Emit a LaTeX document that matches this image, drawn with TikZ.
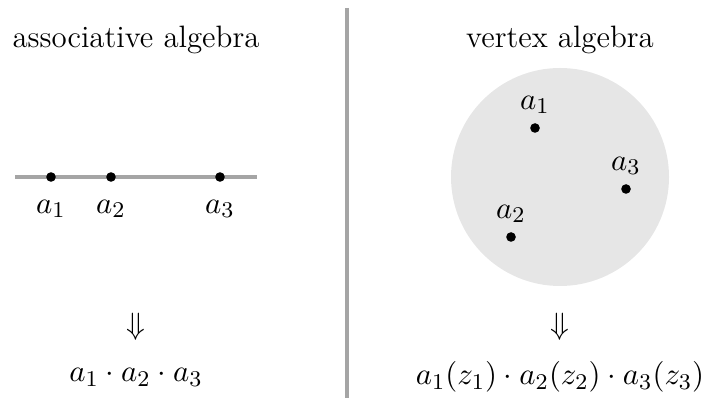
\documentclass[tikz,border=0pt]{standalone}
\usepackage{amsmath,amssymb}
\usepackage{tikz}
\usetikzlibrary{positioning}
\definecolor{rulegray}{RGB}{165,165,165}
\definecolor{diskgray}{RGB}{230,230,230}

\begin{document}
\begin{tikzpicture}[x=0.0125cm, y=-0.0125cm,
    every node/.style={font=\fontsize{11}{13.5}\selectfont},
    pt/.style={circle, fill=black, inner sep=0pt, minimum size=0.12cm},
    lbl/.style={inner sep=1pt},
    rule/.style={rulegray, line width=1.1pt}]
  \useasboundingbox (0,0) rectangle (705,398);

  % divider
  \coordinate (top) at (347,8);
  \coordinate (bot) at (347,398);
  \draw[rule] (top) -- (bot);

  % titles
  \node (tassoc) at (136,40) {associative algebra};
  \node (tvert) at (560,40) {vertex algebra};

  % left: points on a line
  \coordinate (lstart) at (15,177);
  \coordinate (lend) at (257,177);
  \draw[rule] (lstart) -- (lend);
  \node[pt] (p1) at (51,177) {};
  \node[pt] (p2) at (111,177) {};
  \node[pt] (p3) at (220,177) {};
  \node[lbl, below=5pt of p1] {$a_1$};
  \node[lbl, below=5pt of p2] {$a_2$};
  \node[lbl, below=5pt of p3] {$a_3$};

  % right: points in a disk
  \node[circle, fill=diskgray, minimum size=218*0.0125cm, inner sep=0pt] (disk) at (560,177) {};
  \node[pt] (q1) at (535,128) {};
  \node[pt] (q2) at (511,237) {};
  \node[pt] (q3) at (626,189) {};
  \node[lbl, above=2pt of q1] {$a_1$};
  \node[lbl, above=2pt of q2] {$a_2$};
  \node[lbl, above=2pt of q3] {$a_3$};

  % results
  \node (iml) at (136,327) {$\Downarrow$};
  \node (imr) at (560,327) {$\Downarrow$};
  \node (resl) at (136,377) {$a_1\cdot a_2\cdot a_3$};
  \node (resr) at (560,377) {$a_1(z_1)\cdot a_2(z_2)\cdot a_3(z_3)$};
\end{tikzpicture}
\end{document}
